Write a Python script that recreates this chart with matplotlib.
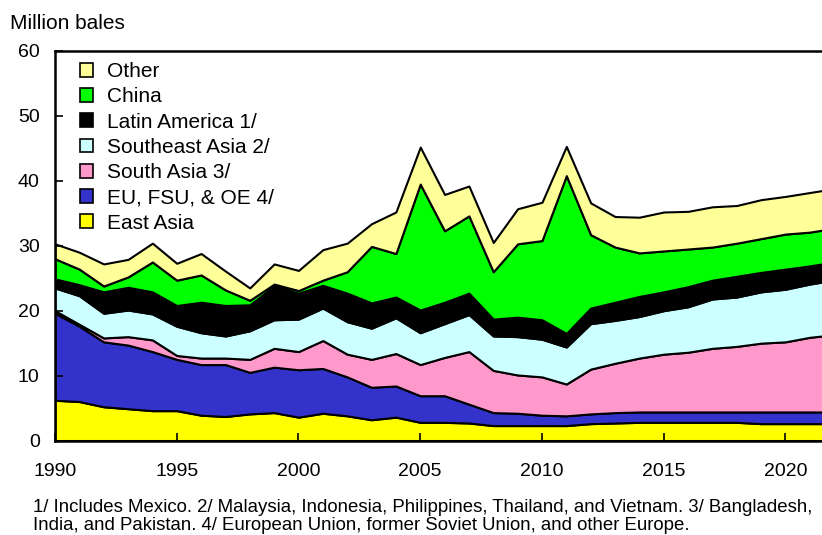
"""World cotton mill use by region, stacked area, 1990-2022."""

import matplotlib

matplotlib.use("Agg")
import matplotlib.pyplot as plt
from matplotlib.patches import Patch

plt.rcParams["font.family"] = ["Liberation Sans", "DejaVu Sans"]

# ---------------------------------------------------------------------------
# Data (million bales)
# ---------------------------------------------------------------------------
YEARS = list(range(1990, 2023))

EAST_ASIA = [6.2, 6.0, 5.2, 4.9, 4.6, 4.6, 3.9, 3.7, 4.1, 4.3, 3.6, 4.2, 3.8, 3.2,
             3.6, 2.8, 2.8, 2.7, 2.3, 2.3, 2.3, 2.3, 2.6, 2.7, 2.8, 2.8, 2.8, 2.8,
             2.8, 2.6, 2.6, 2.6, 2.6]
EU_FSU_OE = [13.4, 11.6, 10.0, 9.8, 9.1, 7.9, 7.8, 8.0, 6.4, 7.0, 7.3, 6.9, 6.0, 5.0,
             4.8, 4.1, 4.1, 2.9, 2.0, 1.9, 1.6, 1.5, 1.5, 1.6, 1.6, 1.6, 1.6, 1.6,
             1.6, 1.8, 1.8, 1.8, 1.8]
SOUTH_ASIA = [0.4, 0.3, 0.6, 1.3, 1.8, 0.6, 1.0, 1.0, 2.0, 2.9, 2.8, 4.3, 3.5, 4.3,
              5.0, 4.8, 5.9, 8.1, 6.5, 5.9, 5.9, 4.9, 6.9, 7.6, 8.3, 8.9, 9.2, 9.8,
              10.1, 10.6, 10.8, 11.5, 11.9]
SOUTHEAST_ASIA = [3.5, 4.4, 3.8, 4.1, 4.0, 4.5, 3.9, 3.4, 4.4, 4.4, 5.0, 5.0, 5.0, 4.8,
                  5.5, 4.9, 5.2, 5.7, 5.3, 5.9, 5.8, 5.7, 7.0, 6.6, 6.4, 6.7, 7.0, 7.6,
                  7.6, 7.9, 8.1, 8.2, 8.4]
LATIN_AMERICA = [1.4, 1.7, 3.3, 3.5, 3.4, 3.2, 4.7, 4.7, 4.0, 5.2, 4.0, 3.5, 4.4, 3.9,
                 3.2, 3.5, 3.3, 3.3, 2.6, 3.0, 3.0, 2.1, 2.4, 2.8, 3.1, 2.9, 3.1, 2.9,
                 3.2, 3.0, 3.1, 2.8, 2.8]
CHINA = [3.1, 2.4, 0.9, 1.6, 4.6, 3.9, 4.2, 2.4, 0.7, 0.3, 0.4, 0.8, 3.3, 8.7,
         6.7, 19.4, 11.0, 11.9, 7.3, 11.3, 12.2, 24.3, 11.3, 8.5, 6.7, 6.3, 5.8, 5.1,
         5.1, 5.2, 5.4, 5.2, 5.2]
OTHER = [2.3, 2.6, 3.4, 2.7, 2.9, 2.6, 3.3, 2.9, 1.9, 3.1, 3.1, 4.7, 4.4, 3.5,
         6.4, 5.7, 5.6, 4.6, 4.5, 5.4, 5.9, 4.5, 4.9, 4.7, 5.5, 6.0, 5.8, 6.2,
         5.8, 6.0, 5.8, 6.1, 6.1]

# bottom -> top stacking order
SERIES = [EAST_ASIA, EU_FSU_OE, SOUTH_ASIA, SOUTHEAST_ASIA, LATIN_AMERICA, CHINA, OTHER]
LABELS = ["East Asia", "EU, FSU, & OE 4/", "South Asia 3/", "Southeast Asia 2/",
          "Latin America 1/", "China", "Other"]
COLORS = ["#FFFF00", "#3333CC", "#FF99CC", "#CCFFFF", "#000000", "#00FF00", "#FFFF99"]

FOOTNOTE_1 = ("1/ Includes Mexico. 2/ Malaysia, Indonesia, Philippines, Thailand, "
              "and Vietnam. 3/ Bangladesh,")
FOOTNOTE_2 = "India, and Pakistan. 4/ European Union, former Soviet Union, and other Europe."


def main() -> None:
    fig = plt.figure(figsize=(8.22, 5.35), dpi=100)
    ax = fig.add_axes([0.0669, 0.1766, 0.9331, 0.7281])

    ax.stackplot(YEARS, *SERIES, colors=COLORS, edgecolor="black", linewidth=1.5)

    ax.set_xlim(1990, 2021.5)
    ax.set_ylim(0, 60)
    ax.set_xticks(range(1990, 2021, 5))
    ax.set_yticks(range(0, 61, 10))
    ax.tick_params(axis="both", direction="in", length=6, width=1.2,
                   labelsize=14, colors="black")
    ax.tick_params(axis="x", pad=16)
    ax.tick_params(axis="y", pad=11)
    for side in ("left", "bottom", "top"):
        ax.spines[side].set_linewidth(1.8)
    ax.spines["right"].set_visible(False)

    handles = [Patch(facecolor=c, edgecolor="black", linewidth=1.2, label=l)
               for c, l in zip(COLORS, LABELS)][::-1]
    ax.legend(handles=handles, loc="upper left", bbox_to_anchor=(0.022, 0.993),
              frameon=False, fontsize=15, handlelength=0.63, handleheight=0.63,
              handletextpad=0.67, labelspacing=0.3, borderaxespad=0)

    fig.text(0.012, 0.945, "Million bales", fontsize=15, ha="left", va="baseline")
    # footnotes: two lines, the second sits right at the bottom edge
    fig.text(0.04, 0.0430, FOOTNOTE_1, fontsize=13.4, ha="left", va="baseline")
    fig.text(0.04, 0.0090, FOOTNOTE_2, fontsize=13.4, ha="left", va="baseline")

    fig.savefig("out.png", dpi=100)
    plt.close(fig)


if __name__ == "__main__":
    main()
